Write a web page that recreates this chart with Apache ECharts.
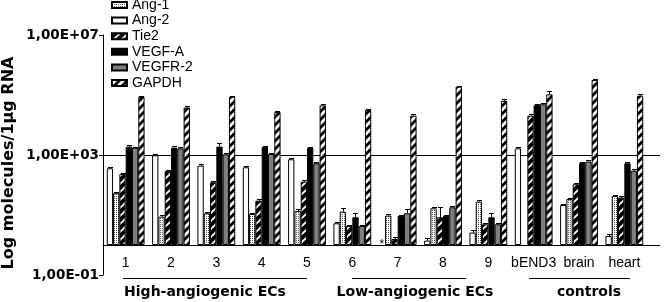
<!DOCTYPE html>
<html><head><meta charset="utf-8">
<script src="https://cdn.jsdelivr.net/npm/echarts@6/dist/echarts.min.js"></script>
<style>html,body{margin:0;padding:0;background:#fff}#c{width:664px;height:302px}</style>
</head><body><div id="c"></div>
<script>
// ---------- data ----------
const categories = ['1','2','3','4','5','6','7','8','9','bEND3','brain','heart'];
const legendOrder = ['Ang-1','Ang-2','Tie2','VEGF-A','VEGFR-2','GAPDH'];
// molecules / 1 µg RNA (bar order in each group: Ang-2, Ang-1, Tie2, VEGF-A, VEGFR-2, GAPDH)
const ang2   = [360, 980, 440, 390, 720, 5.3, null, 1.4, 2.6, 1660, 21.5, 2];
const ang1   = [53, 8.8, 11.4, 10.8, 13.6, 12.9, 9.5, 16.7, 27.8, null, 34, 43];
const tie2   = [234, 293, 123, 30, 129, 4.3, 1.6, 8.4, 4.9, 20400, 106, 38];
const vegfA  = [1900, 1750, 1900, 1850, 1750, 8.4, 9.3, 9.3, 8.4, 46000, 540, 530];
const vegfr2 = [1750, 1660, 1050, 1075, 530, 4.3, 11.4, 18, 4.9, 49000, 600, 300];
const gapdh  = [87000, 38000, 87000, 27000, 45000, 31600, 20400, 189000, 64000, 105000, 316000, 95000];
// upper error values
const ang2Err   = [40, 110, 50, 40, 80, 0.7, null, 0.3, 0.5, 150, 2, 0.3];
const ang1Err   = [7, 1.2, 1.5, 1.3, 1.7, 3.9, 1.2, 2.3, 3, null, 3, 4];
const tie2Err   = [25, 35, 12, 3, 14, 0.5, 0.2, 10.6, 0.5, 2000, 10, 4];
const vegfAErr  = [200, 245, 570, 200, 150, 3.6, 1, 0.7, 3, 4000, 50, 50];
const vegfr2Err = [150, 150, 100, 100, 50, 0.5, 4.1, 2, 0.5, 4000, 60, 30];
const gapdhErr  = [9000, 4000, 9000, 3000, 5000, 3000, 2000, 15000, 7000, 30000, 20000, 9000];
// not detected marker
const notDetected = [{series: 'Ang-2', category: '7', mark: '*'}];
// y axis ticks
const yTickValues = [0.1, 1000, 10000000];
const yTickLabels = ['1,00E-01', '1,00E+03', '1,00E+07'];
// group annotations
const groupNames = ['High-angiogenic ECs', 'Low-angiogenic ECs', 'controls'];
const yTitle = 'Log molecules/1µg RNA';

// ---------- patterns ----------
function makePattern(w, h, draw) {
  const c = document.createElement('canvas'); c.width = w; c.height = h;
  draw(c.getContext('2d'), w, h); return c;
}
function stripes(bg, fg, lw, T) {
  return makePattern(T, T, (g) => {
    g.fillStyle = bg; g.fillRect(0, 0, T, T);
    g.strokeStyle = fg; g.lineWidth = lw;
    g.beginPath();
    g.moveTo(-T, T); g.lineTo(T, -T);
    g.moveTo(0, T); g.lineTo(T, 0);
    g.moveTo(0, 2 * T); g.lineTo(2 * T, 0);
    g.stroke();
  });
}
const dotPat = makePattern(2, 2, (g) => {
  g.fillStyle = '#fff'; g.fillRect(0, 0, 2, 2);
  g.fillStyle = '#555'; g.fillRect(0, 0, 1, 1);
});
const tiePat = stripes('#000', '#fff', 1.8, 8);
const gapdhPat = stripes('#fff', '#000', 2.8, 8);

const seriesDefs = [
  {name: 'Ang-2', values: ang2, err: ang2Err, fill: '#ffffff'},
  {name: 'Ang-1', values: ang1, err: ang1Err, fill: {image: dotPat, repeat: 'repeat'}},
  {name: 'Tie2', values: tie2, err: tie2Err, fill: {image: tiePat, repeat: 'repeat'}},
  {name: 'VEGF-A', values: vegfA, err: vegfAErr, fill: '#000000'},
  {name: 'VEGFR-2', values: vegfr2, err: vegfr2Err, fill: '#7f7f7f'},
  {name: 'GAPDH', values: gapdh, err: gapdhErr, fill: {image: gapdhPat, repeat: 'repeat'}}
];

const BAR_W = 6.3;
const series = seriesDefs.map((d) => ({
  name: d.name, type: 'bar', barWidth: BAR_W, barGap: '0%',
  itemStyle: {color: d.fill, borderColor: '#000', borderWidth: 1},
  data: d.values.map((v, i) => {
    const nd = notDetected.find(n => n.series === d.name && n.category === categories[i]);
    if (v == null && nd) {
      return {value: 0, itemStyle: {borderWidth: 0, color: 'rgba(0,0,0,0)'},
        label: {show: true, position: 'inside', formatter: nd.mark, color: '#000',
          fontSize: 12, fontFamily: 'Liberation Sans'}};
    }
    return v == null ? null : Math.log10(v);
  })
}));

const errData = [];
seriesDefs.forEach((d, s) => d.values.forEach((v, c) => {
  const e = d.err[c];
  if (v != null && e) errData.push([c, s, Math.log10(v), Math.log10(v + e)]);
}));
series.push({
  type: 'custom', name: 'error', silent: true, z: 3,
  encode: {x: 0, y: [2, 3]}, data: errData,
  renderItem: (params, api) => {
    const c = api.value(0), s = api.value(1);
    const p0 = api.coord([c, api.value(2)]);
    const p1 = api.coord([c, api.value(3)]);
    const x = Math.round(p0[0] + (s - 2.5) * BAR_W) + 0.5;
    const y1 = Math.round(p1[1]) + 0.5;
    const cap = 2.5;
    return {type: 'group', children: [
      {type: 'line', shape: {x1: x, y1: p0[1], x2: x, y2: y1}, style: {stroke: '#000', lineWidth: 1}},
      {type: 'line', shape: {x1: x - cap, y1: y1, x2: x + cap, y2: y1}, style: {stroke: '#000', lineWidth: 1}}
    ]};
  }
});

const chart = echarts.init(document.getElementById('c'), null, {renderer: 'canvas', width: 664, height: 302});
chart.setOption({
  animation: false,
  backgroundColor: '#fff',
  grid: {left: 103, right: 17, top: 35, bottom: 27},
  legend: {
    orient: 'vertical', left: 111, top: -2, padding: 0, itemWidth: 15, itemHeight: 6, itemGap: 1.6,
    icon: 'rect', data: legendOrder,
    textStyle: {fontSize: 14, fontFamily: 'Liberation Sans', color: '#000', lineHeight: 14}
  },
  xAxis: {
    type: 'category', data: categories, position: 'bottom', offset: -30,
    axisLine: {onZero: false, lineStyle: {color: '#000', width: 1}},
    axisTick: {length: 4, lineStyle: {color: '#000'}},
    axisLabel: {margin: 11, interval: 0, color: '#000', fontSize: 14, fontFamily: 'Liberation Sans'}
  },
  yAxis: {
    type: 'value', min: Math.log10(yTickValues[0]), max: Math.log10(yTickValues[2]), interval: 4,
    axisLine: {show: true, lineStyle: {color: '#000', width: 1}},
    axisTick: {show: true, length: 4, lineStyle: {color: '#000'}},
    axisLabel: {
      margin: 4, color: '#000', fontSize: 13.5, fontWeight: 'bold', fontFamily: 'DejaVu Sans',
      formatter: (v) => {
        const i = yTickValues.findIndex(t => Math.abs(Math.log10(t) - v) < 1e-6);
        return i >= 0 ? yTickLabels[i] : '';
      }
    },
    splitLine: {show: true, showMinLine: false, showMaxLine: false, lineStyle: {color: '#000', width: 1}}
  },
  series: series
});

// annotations
const y0 = chart.convertToPixel({yAxisIndex: 0}, 0);
const y3 = chart.convertToPixel({yAxisIndex: 0}, 3);
const gridRight = 647;
const bold = 'bold 14px "DejaVu Sans"';
const ln = (x1, y, x2) => ({type: 'line', shape: {x1, y1: y, x2, y2: y}, style: {stroke: '#000', lineWidth: 1}});
chart.setOption({
  graphic: [
    ln(gridRight, Math.round(y0) + 0.5, 660),
    ln(gridRight, Math.round(y3) + 0.5, 660),
    ln(123, 278.5, 307),
    ln(352, 278.5, 466),
    ln(529, 278.5, 630),
    {type: 'text', x: 205, y: 292, style: {text: groupNames[0], font: bold, fill: '#000', textAlign: 'center', textVerticalAlign: 'middle'}},
    {type: 'text', x: 415, y: 292, style: {text: groupNames[1], font: bold, fill: '#000', textAlign: 'center', textVerticalAlign: 'middle'}},
    {type: 'text', x: 589, y: 292, style: {text: groupNames[2], font: bold, fill: '#000', textAlign: 'center', textVerticalAlign: 'middle'}},
    {type: 'text', x: 8.5, y: 163, rotation: Math.PI / 2,
      style: {text: yTitle, font: 'bold 16px "DejaVu Sans"', fill: '#000', textAlign: 'center', textVerticalAlign: 'middle'}}
  ]
});
</script></body></html>
